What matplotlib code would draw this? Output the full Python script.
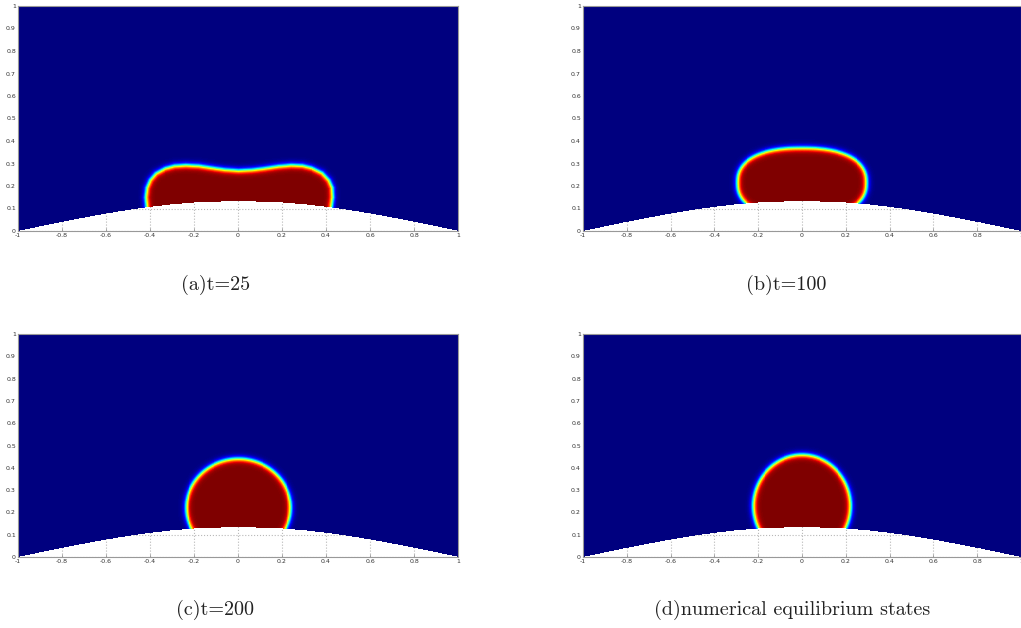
import numpy as np
import matplotlib
matplotlib.use('Agg')
import matplotlib.pyplot as plt
from matplotlib.path import Path
from matplotlib.ticker import FuncFormatter

plt.rcParams['axes.unicode_minus'] = False

W, H = 1021, 628

# ---------------- data ----------------
# curved substrate (upper boundary of the white solid)
sub_x = [-1.0, -0.9, -0.8, -0.7, -0.6, -0.5, -0.4, -0.3, -0.2, -0.1, 0.0,
         0.1, 0.2, 0.3, 0.4, 0.5, 0.6, 0.7, 0.8, 0.9, 1.0]
sub_y = [0.0, 0.021, 0.041, 0.060, 0.078, 0.094, 0.108, 0.119, 0.127, 0.131, 0.133,
         0.131, 0.127, 0.119, 0.108, 0.094, 0.078, 0.060, 0.041, 0.021, 0.0]

# (a) t=25 : outline of the drop (phase-field 0.5 level)
a_x = [-0.415, -0.420, -0.415, -0.400, -0.375, -0.335, -0.290, -0.240, -0.180,
       -0.120, -0.060, 0.000, 0.060, 0.120, 0.180, 0.240, 0.290, 0.335,
       0.380, 0.410, 0.425, 0.427, 0.420, 0.420, -0.415]
a_y = [0.100, 0.150, 0.192, 0.227, 0.256, 0.278, 0.290, 0.293, 0.290,
       0.281, 0.273, 0.269, 0.272, 0.279, 0.288, 0.293, 0.291, 0.280,
       0.258, 0.226, 0.192, 0.150, 0.100, 0.000, 0.000]

# (b) t=100 : super-ellipse drop  (centre, semi-axes, exponent)
b_center = (0.0, 0.215)
b_axes = (0.295, 0.155)
b_power = 2.4

# (c) t=200 : ellipse drop
c_center = (0.0, 0.220)
c_axes = (0.237, 0.220)

# (d) equilibrium : ellipse drop
d_center = (0.0, 0.228)
d_axes = (0.222, 0.230)

interface_width = 0.014

captions = ['(a)t=25', '(b)t=100', '(c)t=200', '(d)numerical equilibrium states']
x_ticks = [-1, -0.8, -0.6, -0.4, -0.2, 0, 0.2, 0.4, 0.6, 0.8, 1]
y_ticks = [0, 0.1, 0.2, 0.3, 0.4, 0.5, 0.6, 0.7, 0.8, 0.9, 1]

# ---------------- helpers ----------------
NX, NY = 900, 450
gx = np.linspace(-1, 1, NX)
gy = np.linspace(0, 1, NY)
GX, GY = np.meshgrid(gx, gy)
PTS = np.column_stack([GX.ravel(), GY.ravel()])


def superellipse_outline(center, axes, p, n=720):
    t = np.linspace(0, 2 * np.pi, n, endpoint=False)
    c, s = np.cos(t), np.sin(t)
    x = center[0] + axes[0] * np.sign(c) * np.abs(c) ** (2.0 / p)
    y = center[1] + axes[1] * np.sign(s) * np.abs(s) ** (2.0 / p)
    return np.column_stack([x, y])


def densify(poly, step=0.002):
    out = []
    closed = np.vstack([poly, poly[:1]])
    for p0, p1 in zip(closed[:-1], closed[1:]):
        L = np.hypot(*(p1 - p0))
        k = max(int(L / step), 1)
        f = np.arange(k) / k
        out.append(p0 + f[:, None] * (p1 - p0))
    return np.vstack(out)


def phase_field(poly):
    inside = Path(poly).contains_points(PTS)
    bnd = densify(poly)
    d = np.full(len(PTS), 1.0)
    xmin, ymin = bnd.min(0) - 0.1
    xmax, ymax = bnd.max(0) + 0.1
    near = np.where((PTS[:, 0] > xmin) & (PTS[:, 0] < xmax) &
                    (PTS[:, 1] > ymin) & (PTS[:, 1] < ymax))[0]
    for i in range(0, len(near), 4000):
        idx = near[i:i + 4000]
        p = PTS[idx]
        dd = np.sqrt(((p[:, None, :] - bnd[None, :, :]) ** 2).sum(-1)).min(1)
        d[idx] = dd
    sd = np.where(inside, d, -d)
    phi = 0.5 * (1 + np.tanh(sd / interface_width))
    phi = phi.reshape(GX.shape)
    solid = GY < np.interp(GX, sub_x, sub_y)
    return np.ma.masked_where(solid, phi)


shapes = [
    np.column_stack([a_x, a_y]),
    superellipse_outline(b_center, b_axes, b_power),
    superellipse_outline(c_center, c_axes, 2.0),
    superellipse_outline(d_center, d_axes, 2.0),
]

# ---------------- figure ----------------
fig = plt.figure(figsize=(W / 100, H / 100), dpi=100)

# axes boxes in pixels: left, top, right, bottom
boxes = [(18, 6, 458, 231), (583, 6, 1021, 231),
         (18, 334, 458, 557), (583, 334, 1021, 557)]
xmaxs = [1.0, 0.974, 1.0, 0.974]
cap_pos = [(216, 285), (786, 285), (215, 610), (792, 610)]

fmt = FuncFormatter(lambda v, pos: ('%g' % round(v, 2)) if abs(v) > 1e-9 else '0')

for k in range(4):
    l, t, r, b = boxes[k]
    ax = fig.add_axes([l / W, 1 - b / H, (r - l) / W, (b - t) / H])
    phi = phase_field(shapes[k])
    ax.set_axisbelow(True)
    ax.grid(True, linestyle=':', color='#b8b8b8', linewidth=0.8)
    ax.imshow(phi, extent=[-1, 1, 0, 1], origin='lower', cmap='jet',
              vmin=0, vmax=1, interpolation='nearest', aspect='auto', zorder=1)
    ax.set_xlim(-1, xmaxs[k])
    ax.set_ylim(0, 1)
    ax.set_xticks(x_ticks)
    ax.set_yticks(y_ticks)
    ax.xaxis.set_major_formatter(fmt)
    ax.yaxis.set_major_formatter(fmt)
    ax.tick_params(direction='in', length=2, width=0.5, color='#888888',
                   labelsize=4.5, labelcolor='#333333', pad=1.5)
    for sp in ax.spines.values():
        sp.set_color('#999999')
        sp.set_linewidth(0.8)
        sp.set_zorder(3)
    cx, cy = cap_pos[k]
    fig.text(cx / W, 1 - cy / H, captions[k], ha='center', va='center',
             fontfamily='cmr10', fontsize=14.5, color='#222222')

fig.savefig('out.png', dpi=100)
